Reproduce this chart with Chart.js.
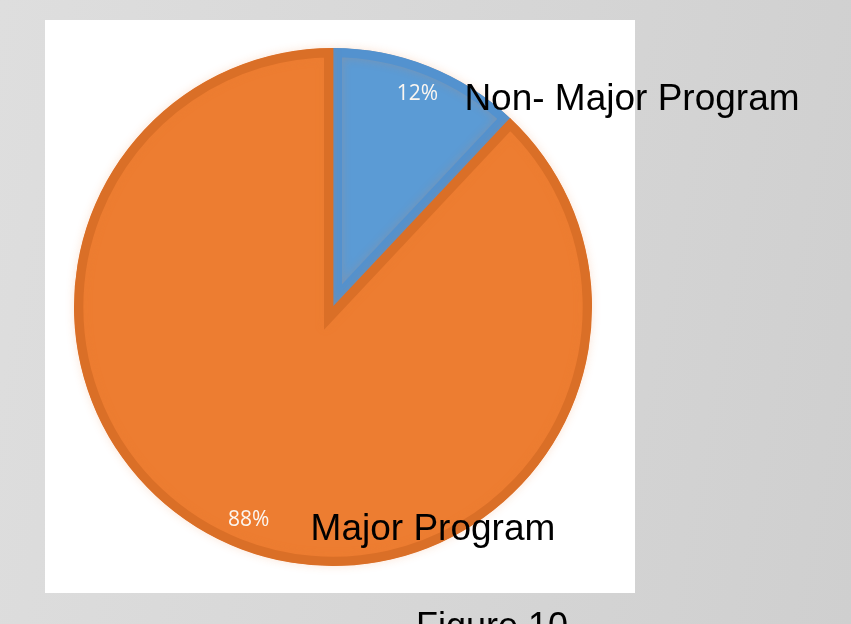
<!DOCTYPE html>
<html>
<head>
<meta charset="utf-8">
<script src="https://cdn.jsdelivr.net/npm/chart.js@4/dist/chart.umd.min.js"></script>
<style>
  html, body { margin: 0; padding: 0; }
  body {
    width: 851px; height: 624px; overflow: hidden; position: relative;
    background: linear-gradient(100deg, #dedede 0%, #d6d6d6 55%, #cfcfcf 100%);
  }
  #panel { position: absolute; left: 45px; top: 20px; width: 590px; height: 573px; background: #fff; }
  #wrap { position: absolute; left: 0; top: 0; width: 851px; height: 624px; }
</style>
</head>
<body>
<div id="panel"></div>
<div id="wrap"><canvas id="pie" width="851" height="624"></canvas></div>
<script>
// program split
const categories = ['Non- Major Program', 'Major Program'];
const shares = [12, 88];
const sliceColors = ['#5B9BD5', '#ED7D31'];
const edgeColors = ['#5392CF', '#DA6F27'];
const caption = 'Figure 10';

// soft glow under the pie
const glow = {
  id: 'glow',
  beforeDatasetsDraw(chart) {
    const ctx = chart.ctx;
    ctx.save();
    ctx.shadowColor = 'rgba(237,125,49,0.22)';
    ctx.shadowBlur = 10;
  },
  afterDatasetsDraw(chart) {
    chart.ctx.restore();
  }
};

// percent labels, category names and caption
const labels = {
  id: 'labels',
  afterDraw(chart) {
    const ctx = chart.ctx;
    const meta = chart.getDatasetMeta(0);
    const nameOffset = [[47, 16], [62, 20]];
    ctx.save();
    meta.data.forEach((arc, i) => {
      const p = arc.getProps(['x', 'y', 'startAngle', 'endAngle', 'outerRadius'], true);
      const mid = (p.startAngle + p.endAngle) / 2;
      const r = p.outerRadius * 0.885;
      const lx = p.x + Math.cos(mid) * r;
      const ly = p.y + Math.sin(mid) * r;
      ctx.font = '21px "Open Sans", sans-serif';
      ctx.fillStyle = '#fbf6f0';
      ctx.textAlign = 'center';
      ctx.textBaseline = 'middle';
      ctx.fillText(shares[i] + '%', lx, ly);

      ctx.font = '37px "Liberation Sans", Arial, sans-serif';
      ctx.fillStyle = '#000';
      ctx.textAlign = 'left';
      ctx.textBaseline = 'alphabetic';
      ctx.fillText(categories[i], lx + nameOffset[i][0], ly + nameOffset[i][1]);
    });
    ctx.font = '36px "Liberation Sans", Arial, sans-serif';
    ctx.fillStyle = '#000';
    ctx.textAlign = 'center';
    ctx.fillText(caption, 492, 638);
    ctx.restore();
  }
};

new Chart(document.getElementById('pie'), {
  type: 'pie',
  data: {
    labels: categories,
    datasets: [{
      data: shares,
      backgroundColor: sliceColors,
      borderColor: edgeColors,
      borderWidth: 9,
      borderAlign: 'inner',
      borderJoinStyle: 'miter'
    }]
  },
  options: {
    responsive: false,
    animation: false,
    layout: { padding: { left: 74, right: 259, top: 48, bottom: 58 } },
    plugins: {
      legend: { display: false },
      tooltip: { enabled: false }
    }
  },
  plugins: [glow, labels]
});
</script>
</body>
</html>
